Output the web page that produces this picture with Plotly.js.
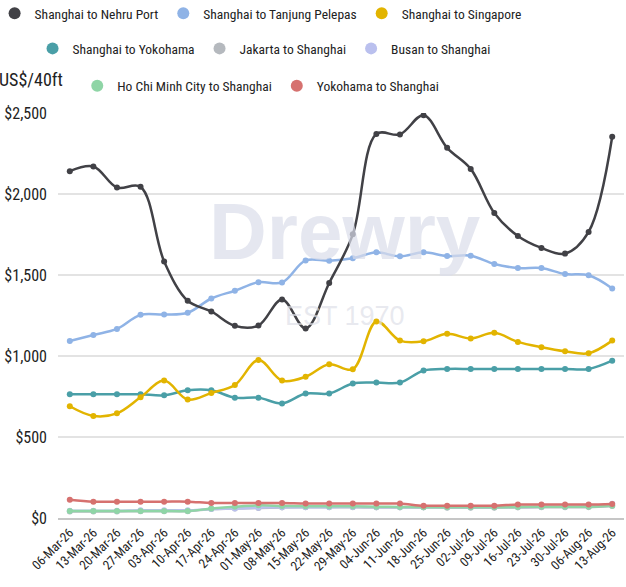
<!DOCTYPE html>
<html>
<head>
<meta charset="utf-8">
<script src="https://cdn.plot.ly/plotly-3.0.1.min.js"></script>
<style>
html,body{margin:0;padding:0;background:#fff;}
#chart{width:626px;height:587px;}
svg text{font-stretch:condensed;}
</style>
</head>
<body>
<div id="chart"></div>
<script>
const dates = ["06-Mar-26","13-Mar-26","20-Mar-26","27-Mar-26","03-Apr-26","10-Apr-26","17-Apr-26","24-Apr-26","01-May-26","08-May-26","15-May-26","22-May-26","29-May-26","04-Jun-26","11-Jun-26","18-Jun-26","25-Jun-26","02-Jul-26","09-Jul-26","16-Jul-26","23-Jul-26","30-Jul-26","06-Aug-26","13-Aug-26"];

const shanghaiNehru = [2141,2170,2040,2044,1584,1341,1275,1186,1188,1349,1170,1451,1751,2370,2368,2486,2285,2155,1883,1741,1667,1632,1766,2353];
const shanghaiTanjung = [1093,1130,1167,1254,1256,1267,1355,1403,1456,1454,1590,1588,1603,1640,1615,1640,1617,1619,1568,1543,1543,1506,1498,1417];
const shanghaiSingapore = [690,630,646,745,848,731,772,821,975,848,872,949,918,1213,1095,1091,1137,1108,1143,1087,1054,1029,1017,1095];
const shanghaiYokohama = [764,764,764,764,757,788,788,743,743,707,768,768,830,836,836,910,920,920,920,920,920,920,920,971];
const jakartaShanghai = [40,40,40,42,42,42,55,58,62,65,66,66,66,65,65,65,64,64,64,65,66,66,67,74];
const busanShanghai = [45,45,45,48,48,48,55,58,64,66,67,67,68,67,66,66,66,66,67,68,69,70,72,88];
const hcmcShanghai = [43,43,43,43,43,43,58,70,78,74,72,72,72,70,68,66,66,66,66,68,70,70,70,76];
const yokohamaShanghai = [113,101,101,101,101,101,93,93,93,93,89,89,89,89,89,76,76,76,76,83,83,83,83,87];

const seriesNames = ["Shanghai to Nehru Port","Shanghai to Tanjung Pelepas","Shanghai to Singapore","Shanghai to Yokohama","Jakarta to Shanghai","Busan to Shanghai","Ho Chi Minh City to Shanghai","Yokohama to Shanghai"];
const seriesValues = [shanghaiNehru,shanghaiTanjung,shanghaiSingapore,shanghaiYokohama,jakartaShanghai,busanShanghai,hcmcShanghai,yokohamaShanghai];
const seriesColors = ["#414146","#8fb3e6","#e2b400","#4a9fa7","#b5b9be","#bac0ee","#8fd5a6","#d6716f"];
const legendGroups = ["legend","legend","legend","legend2","legend2","legend2","legend3","legend3"];

const FONT = "'Roboto Condensed', 'Liberation Sans Narrow', Roboto, 'Liberation Sans', sans-serif";

const traces = [];
const drawOrder = [4,5,6,7,3,2,1,0];
drawOrder.forEach(i => {
  traces.push({
    type: 'scatter', mode: 'lines+markers',
    x: dates, y: seriesValues[i], name: seriesNames[i],
    line: {color: seriesColors[i], width: 2.5, shape: 'spline', smoothing: 1},
    marker: {color: seriesColors[i], size: 6},
    showlegend: false, hoverinfo: 'skip'
  });
});
seriesNames.forEach((n, i) => {
  traces.push({
    type: 'scatter', mode: 'markers', x: [null], y: [null], name: n,
    marker: {color: seriesColors[i], size: 12},
    legend: legendGroups[i], showlegend: true, hoverinfo: 'skip'
  });
});

function legendAt(x, y) {
  return {orientation: 'h', x: x, xanchor: 'left', y: y, yanchor: 'middle',
          font: {family: FONT, size: 13.5, color: '#222'}, bgcolor: 'rgba(0,0,0,0)',
          itemwidth: 30, itemclick: false, itemdoubleclick: false};
}

const layout = {
  width: 626, height: 587,
  margin: {l: 57.5, r: 1.5, t: 113, b: 69, autoexpand: false},
  paper_bgcolor: '#fff', plot_bgcolor: '#fff',
  font: {family: FONT, color: '#222', size: 14},
  showlegend: true,
  legend: legendAt(-0.112, 1.2456),
  legend2: legendAt(-0.045, 1.159),
  legend3: legendAt(0.034, 1.067),
  xaxis: {
    type: 'category', range: [-0.5, 23.5], tickangle: -45,
    tickfont: {family: FONT, size: 13, color: '#222'},
    showgrid: false, showline: true, linecolor: '#c6c6c6', linewidth: 2,
    ticks: '', zeroline: false, fixedrange: true, automargin: false
  },
  yaxis: {
    range: [0, 2500], dtick: 500, tickprefix: '$', tickformat: ',d',
    tickfont: {family: FONT, size: 16, color: '#222'},
    gridcolor: '#e3e3e3', gridwidth: 1.5, zeroline: false, showline: false,
    ticks: '', ticklabelstandoff: 10, fixedrange: true, automargin: false
  },
  annotations: [
    {text: 'Drewry', xref: 'paper', yref: 'paper', x: 0.507, y: 0.7065, xanchor: 'center', yanchor: 'middle',
     showarrow: false, font: {family: "'Liberation Sans', Arial, sans-serif", size: 80, color: 'rgba(218,221,233,0.7)', weight: 'bold'}},
    {text: 'EST 1970', xref: 'paper', yref: 'paper', x: 0.507, y: 0.4988, xanchor: 'center', yanchor: 'middle',
     showarrow: false, font: {family: "'Liberation Sans', Arial, sans-serif", size: 27, color: 'rgba(222,224,232,0.7)'}},
    {text: 'US$/40ft', xref: 'paper', yref: 'paper', x: -0.1014, y: 1.082, xanchor: 'left', yanchor: 'middle',
     showarrow: false, xshift: -4, font: {family: FONT, size: 18, color: '#222'}}
  ]
};

Plotly.newPlot('chart', traces, layout, {staticPlot: true, displayModeBar: false});
</script>
</body>
</html>
